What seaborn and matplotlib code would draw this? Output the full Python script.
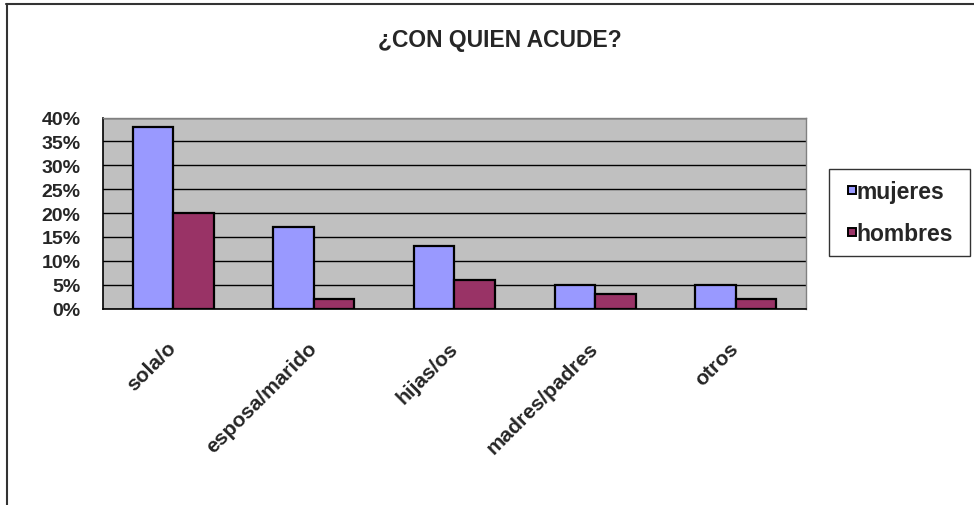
import matplotlib
matplotlib.use("Agg")
import matplotlib.pyplot as plt
import seaborn as sns
import pandas as pd
from matplotlib.lines import Line2D
from matplotlib.ticker import MultipleLocator, FuncFormatter, FixedLocator

# Datos
categorias = ["sola/o", "esposa/marido", "hijas/os", "madres/padres", "otros"]
mujeres = [38, 17, 13, 5, 5]
hombres = [20, 2, 6, 3, 2]
series = ["mujeres", "hombres"]
colores = ["#9999FF", "#993366"]

df = pd.DataFrame({
    "categoria": categorias * 2,
    "grupo": [series[0]] * len(categorias) + [series[1]] * len(categorias),
    "valor": mujeres + hombres,
})

sns.set_style("white")
plt.rcParams["font.family"] = ["Liberation Sans", "DejaVu Sans"]
plt.rcParams["font.weight"] = "bold"

fig = plt.figure(figsize=(9.74, 5.06), dpi=100)
ax = fig.add_axes([0.1057, 0.3883, 0.7218, 0.3775])

sns.barplot(data=df, x="categoria", y="valor", hue="grupo", palette=colores,
            saturation=1, width=0.576, gap=0, edgecolor="black", linewidth=1.6,
            ax=ax, legend=False, zorder=3)

ax.set_facecolor("#C0C0C0")
ax.set_xlim(-0.5, len(categorias) - 0.5)
ax.set_ylim(0, 40)
ax.yaxis.set_major_locator(MultipleLocator(5))
ax.yaxis.set_major_formatter(FuncFormatter(lambda v, p: f"{int(v)}%"))
ax.grid(axis="y", color="black", linewidth=1.0, zorder=1)
ax.grid(axis="x", visible=False)
ax.set_axisbelow(True)
ax.set_xlabel("")
ax.set_ylabel("")

# marcas del eje x entre categorías
ax.xaxis.set_minor_locator(FixedLocator([i - 0.5 for i in range(len(categorias) + 1)]))
ax.tick_params(axis="x", which="major", length=0, pad=26, labelsize=15)
ax.tick_params(axis="x", which="minor", length=6, width=1, color="black", direction="out")
ax.tick_params(axis="y", length=5, width=1, color="black", direction="out",
               labelsize=14, pad=11)

ax.set_xticks(range(len(categorias)), categorias, rotation=45,
              ha="right", va="center", rotation_mode="anchor", fontweight="bold")
for lbl in ax.get_yticklabels():
    lbl.set_fontweight("bold")

for side in ["left", "bottom"]:
    ax.spines[side].set_color("black")
    ax.spines[side].set_linewidth(1.2)
for side in ["top", "right"]:
    ax.spines[side].set_color("#808080")
    ax.spines[side].set_linewidth(1.0)

fig.text(0.5133, 0.907, "¿CON QUIEN ACUDE?", ha="center", va="baseline",
         fontsize=16.5, fontweight="bold")

handles = [Line2D([], [], linestyle="none", marker="s", markersize=5.5,
                  markerfacecolor=c, markeredgecolor="black", markeredgewidth=1.4)
           for c in colores]
fig.legend(handles, series, loc="upper left",
           bbox_to_anchor=(0.851, 0.664, 0.1448, 0.0), mode="expand",
           frameon=True, fancybox=False, edgecolor="black",
           handlelength=1.0, handletextpad=-0.3,
           labelspacing=0.8, borderpad=0.5, borderaxespad=0,
           prop={"weight": "bold", "size": 16.5})

# marco del gráfico
fig.add_artist(Line2D([0.006, 1.0], [0.990, 0.990], transform=fig.transFigure,
                      color="#333333", linewidth=1.5))
fig.add_artist(Line2D([0.0069, 0.0069], [0.0, 0.990], transform=fig.transFigure,
                      color="#333333", linewidth=1.5))

fig.savefig("out.png", dpi=100)
